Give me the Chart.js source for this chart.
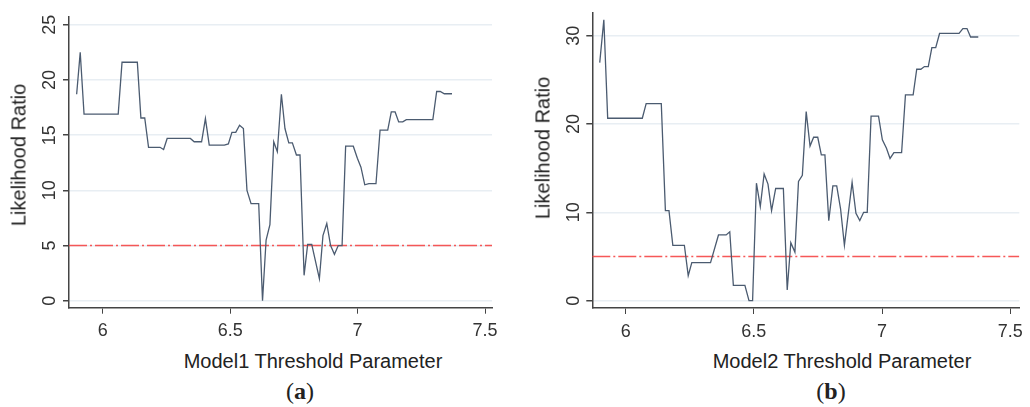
<!DOCTYPE html>
<html lang="en">
<head>
  <meta charset="UTF-8" />
  <title>Likelihood Ratio vs Threshold Parameter</title>
  <script src="https://cdn.jsdelivr.net/npm/chart.js"></script>
  <style>
    body {
      margin: 0;
      background: #fff;
      font-family: 'Liberation Sans', Arial, sans-serif;
      color: #222;
    }
    .wrap {
      position: relative;
      width: 1030px;
      height: 407px;
      overflow: hidden;
    }
    canvas {
      position: absolute;
      top: 0;
    }
    .xtitle, .ytitle {
      position: absolute;
      font-size: 20px;
      white-space: nowrap;
      transform: translate(-50%, -50%);
    }
    .ytitle {
      transform: translate(-50%, -50%) rotate(-90deg);
    }
    .cap {
      position: absolute;
      font-family: 'Liberation Serif', serif;
      font-size: 24px;
      transform: translate(-50%, -50%);
    }
    .cap b { font-weight: bold; }
  </style>
</head>
<body>
  <div class="wrap">
    <canvas id="chartA" width="515" height="340" style="left:0"></canvas>
    <canvas id="chartB" width="515" height="340" style="left:515px"></canvas>

    <div class="ytitle" style="left:19px; top:155px">Likelihood Ratio</div>
    <div class="ytitle" style="left:543px; top:148px">Likelihood Ratio</div>
    <div class="xtitle" style="left:313px; top:361px">Model1 Threshold Parameter</div>
    <div class="xtitle" style="left:842px; top:361px">Model2 Threshold Parameter</div>
    <div class="cap" style="left:300px; top:391px">(<b>a</b>)</div>
    <div class="cap" style="left:831px; top:391px">(<b>b</b>)</div>
  </div>

  <script>
    // threshold values and likelihood ratios
    const model1X = [5.898, 5.912, 5.927, 6.061, 6.076, 6.136, 6.150, 6.165, 6.180, 6.225, 6.239, 6.253, 6.344,
      6.359, 6.388, 6.403, 6.418, 6.477, 6.493, 6.507, 6.522, 6.537, 6.552, 6.566, 6.582, 6.612, 6.627, 6.641,
      6.656, 6.671, 6.685, 6.701, 6.715, 6.730, 6.744, 6.760, 6.774, 6.790, 6.804, 6.820, 6.850, 6.864, 6.879,
      6.894, 6.909, 6.924, 6.939, 6.953, 6.983, 6.999, 7.013, 7.028, 7.044, 7.072, 7.088, 7.118, 7.132, 7.147,
      7.161, 7.177, 7.191, 7.295, 7.310, 7.324, 7.340, 7.370];
    const model1LR = [18.7, 22.5, 16.9, 16.9, 21.6, 21.6, 16.55, 16.55, 13.9, 13.9, 13.7, 14.7, 14.7,
      14.4, 14.4, 16.5, 14.1, 14.1, 14.2, 15.25, 15.25, 15.9, 15.6, 10.0, 8.8, 8.8, 0, 5.5,
      6.9, 14.4, 13.5, 18.7, 15.6, 14.3, 14.3, 13.2, 13.2, 2.3, 5.1, 5.1, 2.0, 5.9, 7.0,
      5.0, 4.2, 5.0, 5.0, 14.0, 14.0, 12.9, 12.1, 10.5, 10.6, 10.6, 15.45, 15.45, 17.1, 17.1,
      16.2, 16.2, 16.4, 16.4, 18.95, 18.95, 18.75, 18.75];

    const model2X = [5.899, 5.915, 5.930, 6.065, 6.080, 6.139, 6.155, 6.169, 6.184, 6.229, 6.244, 6.258, 6.331,
      6.362, 6.392, 6.406, 6.420, 6.465, 6.481, 6.495, 6.510, 6.525, 6.540, 6.555, 6.569, 6.585, 6.615, 6.630,
      6.644, 6.660, 6.674, 6.689, 6.704, 6.719, 6.733, 6.749, 6.763, 6.777, 6.792, 6.808, 6.823, 6.838, 6.853,
      6.883, 6.898, 6.913, 6.928, 6.942, 6.957, 6.986, 7.001, 7.017, 7.031, 7.046, 7.076, 7.091, 7.121, 7.135,
      7.151, 7.165, 7.180, 7.194, 7.209, 7.224, 7.300, 7.315, 7.331, 7.345, 7.375];
    const model2LR = [26.95, 31.8, 20.65, 20.65, 22.3, 22.3, 10.2, 10.2, 6.27, 6.27, 2.83, 4.3, 4.3,
      7.44, 7.44, 7.8, 1.74, 1.74, 0, 0, 13.3, 10.65, 14.35, 13.2, 10.2, 12.7, 12.7, 1.2,
      6.57, 5.5, 13.5, 14.2, 21.4, 17.5, 18.5, 18.5, 16.5, 16.5, 9.06, 13.0, 13.0, 10.4, 6.27,
      13.4, 9.9, 9.06, 10.0, 10.0, 20.9, 20.9, 18.2, 17.25, 16.1, 16.75, 16.75, 23.3, 23.3, 26.2,
      26.2, 26.5, 26.5, 28.65, 28.65, 30.25, 30.25, 30.8, 30.8, 29.85, 29.85];

    const criticalValue = 5;
    const xTicks = [6, 6.5, 7, 7.5];
    const xTickLabels = ['6', '6.5', '7', '7.5'];
    const yTicksA = [0, 5, 10, 15, 20, 25];
    const yTicksB = [0, 10, 20, 30];

    // y tick labels are drawn turned on their side, like the original
    const sideLabels = {
      id: 'sideLabels',
      afterDraw(chart, args, opts) {
        const s = chart.scales.y;
        const ctx = chart.ctx;
        ctx.save();
        ctx.font = '18px "Liberation Sans", Arial, sans-serif';
        ctx.fillStyle = '#333';
        ctx.textAlign = 'center';
        ctx.textBaseline = 'middle';
        s.ticks.forEach(t => {
          ctx.save();
          ctx.translate(s.right - opts.offset, s.getPixelForValue(t.value));
          ctx.rotate(-Math.PI / 2);
          ctx.fillText(String(t.value), 0, 0);
          ctx.restore();
        });
        ctx.restore();
      }
    };

    function makeChart(id, xs, ys, yTicks, cfg) {
      const pts = xs.map((x, i) => ({ x: x, y: ys[i] }));
      return new Chart(document.getElementById(id), {
        type: 'line',
        data: {
          datasets: [{
            data: pts,
            borderColor: '#4b5b70',
            borderWidth: 1.3,
            pointRadius: 0,
            tension: 0
          }, {
            data: [{ x: cfg.xMin, y: criticalValue }, { x: cfg.xMax, y: criticalValue }],
            borderColor: 'rgba(245,70,70,0.9)',
            borderWidth: 1.6,
            borderDash: [18, 3, 2, 3],
            pointRadius: 0
          }]
        },
        options: {
          responsive: false,
          animation: false,
          devicePixelRatio: 1,
          layout: { padding: { top: cfg.top, right: cfg.right, left: 0, bottom: 0 } },
          plugins: {
            legend: { display: false },
            tooltip: { enabled: false },
            sideLabels: { offset: cfg.labelOffset }
          },
          scales: {
            x: {
              type: 'linear',
              min: cfg.xMin,
              max: cfg.xMax,
              afterBuildTicks: s => { s.ticks = xTicks.map(v => ({ value: v })); },
              afterFit: s => { s.height = 340 - cfg.bottom; },
              ticks: {
                color: '#333',
                font: { family: 'Liberation Sans', size: 18 },
                padding: 7,
                maxRotation: 0,
                callback: v => xTickLabels[xTicks.indexOf(v)]
              },
              grid: { drawOnChartArea: false, tickLength: 6, tickColor: '#444' },
              border: { color: '#444', width: 1.5 }
            },
            y: {
              min: cfg.yMin,
              max: cfg.yMax,
              afterBuildTicks: s => { s.ticks = yTicks.map(v => ({ value: v })); },
              afterFit: s => { s.width = cfg.axisX; },
              ticks: { display: false },
              grid: { color: '#e8eef3', lineWidth: 1.5, tickLength: 6, tickColor: '#444' },
              border: { color: '#444', width: 1.5 }
            }
          }
        },
        plugins: [sideLabels]
      });
    }

    makeChart('chartA', model1X, model1LR, yTicksA, {
      xMin: 5.868, xMax: 7.527, yMin: -0.63, yMax: 25.7,
      top: 17, right: 23, bottom: 307.7, axisX: 69, labelOffset: 19
    });
    makeChart('chartB', model2X, model2LR, yTicksB, {
      xMin: 5.87, xMax: 7.535, yMin: -0.83, yMax: 32.6,
      top: 12.7, right: 7, bottom: 308, axisX: 77.3, labelOffset: 18
    });
  </script>
</body>
</html>
